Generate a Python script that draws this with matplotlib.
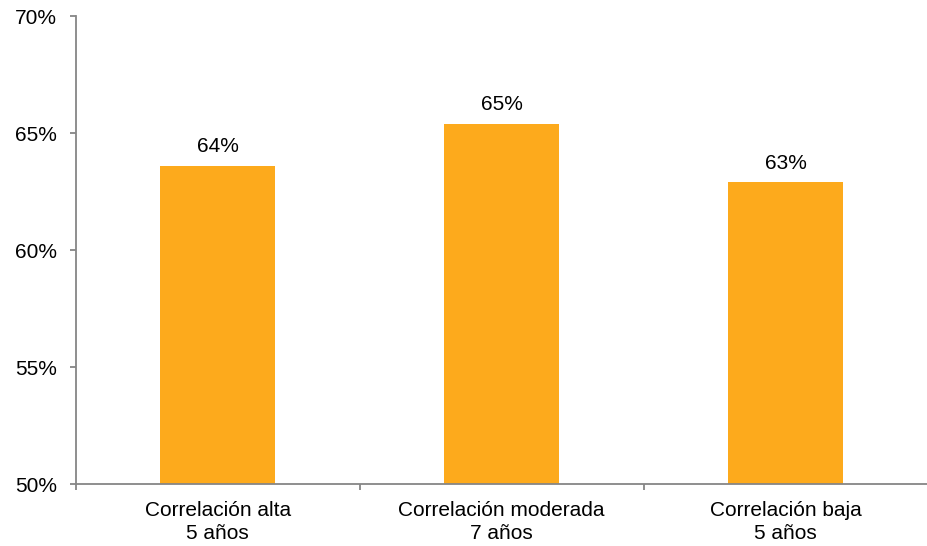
import matplotlib
matplotlib.use("Agg")
import matplotlib.pyplot as plt

categories = ["Correlación alta\n5 años", "Correlación moderada\n7 años", "Correlación baja\n5 años"]
values = [63.6, 65.4, 62.9]
value_labels = ["64%", "65%", "63%"]
yticks = [50, 55, 60, 65, 70]
ytick_labels = ["50%", "55%", "60%", "65%", "70%"]

plt.rcParams['font.family'] = ['Liberation Sans', 'DejaVu Sans']

fig = plt.figure(figsize=(9.28, 5.46), dpi=100)
ax = fig.add_axes([0.0816, 0.113, 0.918, 0.857])

x = list(range(len(categories)))
bars = ax.bar(x, values, width=0.406, color="#FDAA1C", bottom=0)
ax.set_ylim(50, 70)
ax.set_xlim(-0.5, len(categories) - 0.5)

for xi, v, lab in zip(x, values, value_labels):
    ax.annotate(lab, (xi, v), xytext=(0, 7), textcoords="offset points",
                ha="center", va="bottom", fontsize=15, color="#000000")

ax.set_yticks(yticks)
ax.set_yticklabels(ytick_labels, fontsize=15)
ax.set_xticks(x)
ax.set_xticklabels(categories, fontsize=15, linespacing=1.3)
ax.set_xticks([i - 0.5 for i in range(len(categories) + 1)], minor=True)

gray = "#868686"
for s in ["top", "right"]:
    ax.spines[s].set_visible(False)
for s in ["left", "bottom"]:
    ax.spines[s].set_color(gray)
    ax.spines[s].set_linewidth(1.3)

ax.tick_params(axis="y", length=4.3, width=1.3, color=gray, pad=9)
ax.tick_params(axis="x", which="major", length=0, pad=12)
ax.tick_params(axis="x", which="minor", length=4, width=1.3, color=gray)

fig.savefig("out.png", dpi=100)
